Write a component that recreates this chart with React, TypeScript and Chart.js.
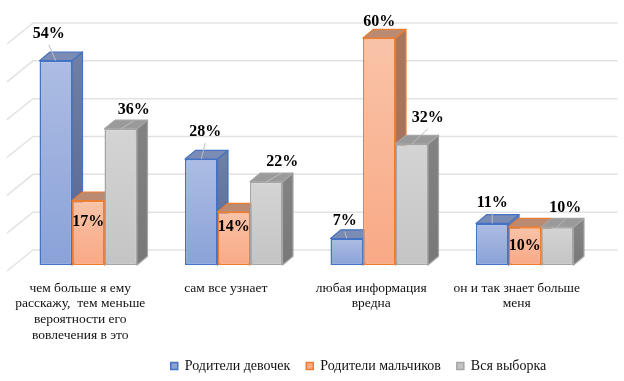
import React, { useEffect, useRef } from "react";
import { Chart, registerables } from "chart.js";

Chart.register(...registerables);

const categories = [
  ["чем больше я ему", "расскажу,  тем меньше", "вероятности его", "вовлечения в это"],
  ["сам все узнает"],
  ["любая информация", "вредна"],
  ["он и так знает больше", "меня"],
];
const girlsParents = [54, 28, 7, 11];
const boysParents = [17, 14, 60, 10];
const wholeSample = [36, 22, 32, 10];
const seriesNames = ["Родители девочек", "Родители мальчиков", "Вся выборка"];
const yTicksMax = 60;
const yStep = 10;

// label placement relative to the top-centre of each bar
const labelShift = [
  [[-7, -27], [4, -27], [-2, -18], [0, -21]],
  [[0, 21], [0, 15], [0, -16], [0, 19]],
  [[13, -19], [16, -20], [16, -26], [8, -19]],
];

const faces = [
  { border: "#4472c4", top: "#adbde3", bottom: "#8aa2d9", sideTop: "#6f7ea3", sideBottom: "#55668f", lid: "#7a8cb4", solid: "#7d97d4" },
  { border: "#ed7d31", top: "#f9c3a8", bottom: "#f9a985", sideTop: "#a57862", sideBottom: "#a07058", lid: "#bb8a72", solid: "#f6a983" },
  { border: "#a5a5a5", top: "#d4d4d4", bottom: "#c4c4c4", sideTop: "#828282", sideBottom: "#787878", lid: "#9a9a9a", solid: "#bdbdbd" },
];

const DEPTH_X = 10.5;
const DEPTH_Y = -8.7;
const SERIF = "'Liberation Serif', serif";

function drawSolidFaces(ctx: any, meta: any, f: any) {
  ctx.save();
  ctx.strokeStyle = f.border;
  ctx.lineWidth = 1.2;
  ctx.lineJoin = "round";
  meta.data.forEach((el: any) => {
    const r = el.x + el.width / 2;
    const l = el.x - el.width / 2;
    const g = ctx.createLinearGradient(0, el.y, 0, el.base);
    g.addColorStop(0, f.sideTop);
    g.addColorStop(1, f.sideBottom);
    ctx.fillStyle = g;
    ctx.beginPath();
    ctx.moveTo(r, el.y);
    ctx.lineTo(r + DEPTH_X, el.y + DEPTH_Y);
    ctx.lineTo(r + DEPTH_X, el.base + DEPTH_Y);
    ctx.lineTo(r, el.base);
    ctx.closePath();
    ctx.fill();
    ctx.stroke();
    ctx.fillStyle = f.lid;
    ctx.beginPath();
    ctx.moveTo(l, el.y);
    ctx.lineTo(l + DEPTH_X, el.y + DEPTH_Y);
    ctx.lineTo(r + DEPTH_X, el.y + DEPTH_Y);
    ctx.lineTo(r, el.y);
    ctx.closePath();
    ctx.fill();
    ctx.stroke();
  });
  ctx.restore();
}

const scene = {
  id: "scene",
  beforeDatasetsDraw(chart: any) {
    const { ctx, chartArea, scales } = chart;
    const y = scales.y;
    const fx = chartArea.left - 8.5;
    const bx = chartArea.left + 17.5;
    const rx = chartArea.right + 20;
    ctx.save();
    ctx.strokeStyle = "#e2e2e2";
    ctx.lineWidth = 1.5;
    y.ticks.forEach((t: any) => {
      const py = y.getPixelForValue(t.value);
      ctx.beginPath();
      ctx.moveTo(fx, py + 6);
      ctx.lineTo(bx, py - 15);
      ctx.lineTo(rx, py - 15);
      ctx.stroke();
    });
    ctx.restore();
    // left-to-right so each front face hides the side of its neighbour
    chart.data.datasets.forEach((_: any, si: number) => {
      const meta = chart.getDatasetMeta(si);
      drawSolidFaces(ctx, meta, faces[si]);
      meta.controller.draw();
    });
  },
  beforeDatasetDraw() {
    return false;
  },
};

const valueLabels = {
  id: "valueLabels",
  afterDatasetsDraw(chart: any) {
    const { ctx } = chart;
    ctx.save();
    chart.data.datasets.forEach((ds: any, si: number) => {
      const meta = chart.getDatasetMeta(si);
      meta.data.forEach((el: any, i: number) => {
        const [dx, dy] = labelShift[si][i];
        const lx = el.x + dx;
        const ly = el.y + dy;
        if (dy <= -18) {
          ctx.strokeStyle = "#bdbdbd";
          ctx.lineWidth = 1;
          ctx.beginPath();
          ctx.moveTo(lx, ly + 11);
          ctx.lineTo(el.x, el.y);
          ctx.stroke();
        }
        ctx.fillStyle = "#000";
        ctx.font = `bold 16px ${SERIF}`;
        ctx.textAlign = "center";
        ctx.textBaseline = "middle";
        ctx.fillText(`${ds.data[i]}%`, lx, ly);
      });
    });
    ctx.restore();
  },
};

const layoutTweak = {
  id: "layoutTweak",
  afterLayout(chart: any) {
    const lg = chart.legend;
    lg.left += 52;
    lg.right += 52;
    lg.top += 2;
    lg.bottom += 2;
    // let the four-line category label run past the axis box
    chart.scales.x.bottom += 20;
  },
};

function frontFill(si: number) {
  return (c: any) => {
    const f = faces[si];
    if (c.type !== "data") return f.solid;
    const y = c.chart.scales.y;
    const y0 = y ? y.getPixelForValue(c.raw) : NaN;
    const y1 = y ? y.getPixelForValue(0) : NaN;
    if (!Number.isFinite(y0) || !Number.isFinite(y1)) return f.solid;
    const g = c.chart.ctx.createLinearGradient(0, y0, 0, y1);
    g.addColorStop(0, f.top);
    g.addColorStop(1, f.bottom);
    return g;
  };
}

export default function App() {
  const ref = useRef<HTMLCanvasElement>(null);
  useEffect(() => {
    const series = [girlsParents, boysParents, wholeSample];
    const chart = new Chart(ref.current as HTMLCanvasElement, {
      type: "bar",
      data: {
        labels: categories as any,
        datasets: series.map((data, si) => ({
          label: seriesNames[si],
          data,
          backgroundColor: frontFill(si),
          borderColor: faces[si].border,
          borderWidth: 1.5,
          borderSkipped: false,
          categoryPercentage: 0.67,
          barPercentage: 1,
          clip: false,
        })) as any,
      },
      plugins: [scene, valueLabels, layoutTweak],
      options: {
        responsive: false,
        animation: false,
        devicePixelRatio: 1,
        layout: { padding: { left: 15.5, right: 26.5, top: 38, bottom: 0 } },
        plugins: {
          tooltip: { enabled: false },
          legend: {
            display: true,
            position: "bottom",
            labels: {
              boxWidth: 7,
              boxHeight: 7,
              padding: 16,
              color: "#111",
              font: { family: SERIF, size: 14 },
            },
          },
        },
        scales: {
          x: {
            grid: { display: false },
            border: { display: false },
            afterFit: (s: any) => {
              s.height = 76;
            },
            ticks: {
              autoSkip: false,
              maxRotation: 0,
              padding: 7,
              labelOffset: -8,
              color: "#111",
              font: { family: SERIF, size: 13.5, lineHeight: 1.18 },
            },
          },
          y: {
            min: 0,
            max: yTicksMax,
            grid: { display: false },
            border: { display: false },
            ticks: { display: false, stepSize: yStep },
            afterFit: (s: any) => {
              s.width = 0;
            },
          },
        },
      },
    });
    return () => chart.destroy();
  }, []);
  return (
    <div style={{ position: "absolute", left: 0, top: 0, width: 624, height: 381, background: "#fff" }}>
      <canvas ref={ref} width={624} height={381} style={{ display: "block" }} />
    </div>
  );
}
